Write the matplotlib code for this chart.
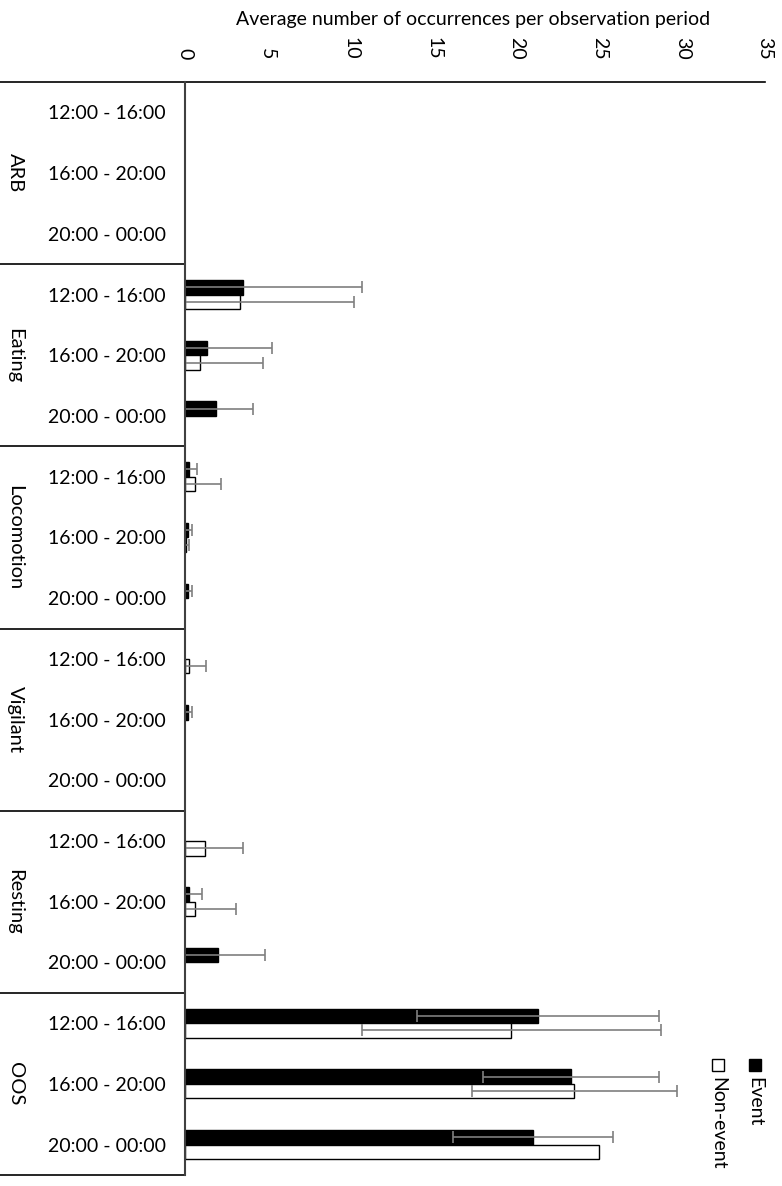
import numpy as np
import matplotlib
matplotlib.use("Agg")
import matplotlib.pyplot as plt
from matplotlib.transforms import blended_transform_factory
from matplotlib.patches import Rectangle

plt.rcParams['font.family'] = ['Lato', 'DejaVu Sans']

groups = ['ARB', 'Eating', 'Locomotion', 'Vigilant', 'Resting', 'OOS']
periods = ['12:00 - 16:00', '16:00 - 20:00', '20:00 - 00:00']

# values per group, per period
event = [0, 0, 0,
         3.5, 1.35, 1.9,
         0.25, 0.2, 0.2,
         0, 0.2, 0,
         0, 0.25, 2.0,
         21.3, 23.3, 21.0]
event_err = [0, 0, 0,
             7.2, 3.9, 2.2,
             0.45, 0.25, 0.25,
             0, 0.2, 0,
             0, 0.75, 2.8,
             7.3, 5.3, 4.8]
nonevent = [0, 0, 0,
            3.3, 0.9, 0,
            0.6, 0.05, 0,
            0.25, 0, 0,
            1.2, 0.6, 0,
            19.7, 23.5, 25.0]
nonevent_err = [0, 0, 0,
                6.9, 3.8, 0,
                1.6, 0.2, 0,
                1.0, 0, 0,
                2.3, 2.5, 0,
                9.0, 6.2, 0]

W, H = 782, 1186
fig = plt.figure(figsize=(W / 100, H / 100), dpi=100)
ax = fig.add_axes([185 / W, 1 - 1175 / H, (765 - 185) / W, (1175 - 82) / H])

n = len(event)
y = np.arange(n)
bh = 0.24


def draw(vals, errs, offset, face):
    vals = np.array(vals)
    errs = np.array(errs)
    lw = np.where(vals > 0, 1.0, 0.0)  # no outline on empty bars
    ax.barh(y + offset, vals, height=bh, color=face, edgecolor='black', lw=lw)
    m = errs > 0
    ax.errorbar(vals[m], y[m] + offset, xerr=errs[m], fmt='none',
                ecolor='#7f7f7f', elinewidth=1.2, capsize=4, capthick=1.2)


draw(event, event_err, -bh / 2, 'black')
draw(nonevent, nonevent_err, bh / 2, 'white')

ax.set_xlim(0, 35)
ax.set_ylim(n - 0.5, -0.5)
ax.set_xticks(np.arange(0, 36, 5))
ax.xaxis.tick_top()
ax.tick_params(axis='x', length=0, pad=16, labelsize=14, labelrotation=-90)
ax.set_yticks(y)
ax.set_yticklabels(periods * len(groups))
ax.tick_params(axis='y', length=0, pad=14, labelsize=14)

for s in ['right', 'bottom']:
    ax.spines[s].set_visible(False)
ax.spines['top'].set_linewidth(1.2)
ax.spines['left'].set_color('#404040')
ax.spines['left'].set_linewidth(1.5)
ax.spines['left'].set_zorder(5)

# multi-level category borders and group names
tr = blended_transform_factory(fig.transFigure, ax.transData)
for k in range(len(groups) + 1):
    yb = k * 3 - 0.5
    ax.plot([0, 185 / W], [yb, yb], color='black', lw=1.2, transform=tr, clip_on=False)
for k, g in enumerate(groups):
    ax.text(15 / W, k * 3 + 1, g, rotation=-90, ha='center', va='center',
            fontsize=14.5, transform=tr)

fig.text(473 / W, 1 - 19 / H, 'Average number of occurrences per observation period',
         ha='center', va='center', fontsize=14)

# legend drawn rotated like the rest of the chart
for xc, face, lab in [(755, 'black', 'Event'), (718, 'white', 'Non-event')]:
    fig.add_artist(Rectangle(((xc - 6) / W, 1 - 1071 / H), 12 / W, 12 / H,
                             facecolor=face, edgecolor='black', lw=1,
                             transform=fig.transFigure))
    fig.text(xc / W, 1 - 1077 / H, lab, rotation=-90, ha='center', va='top', fontsize=14)

fig.savefig('out.png', dpi=100)
